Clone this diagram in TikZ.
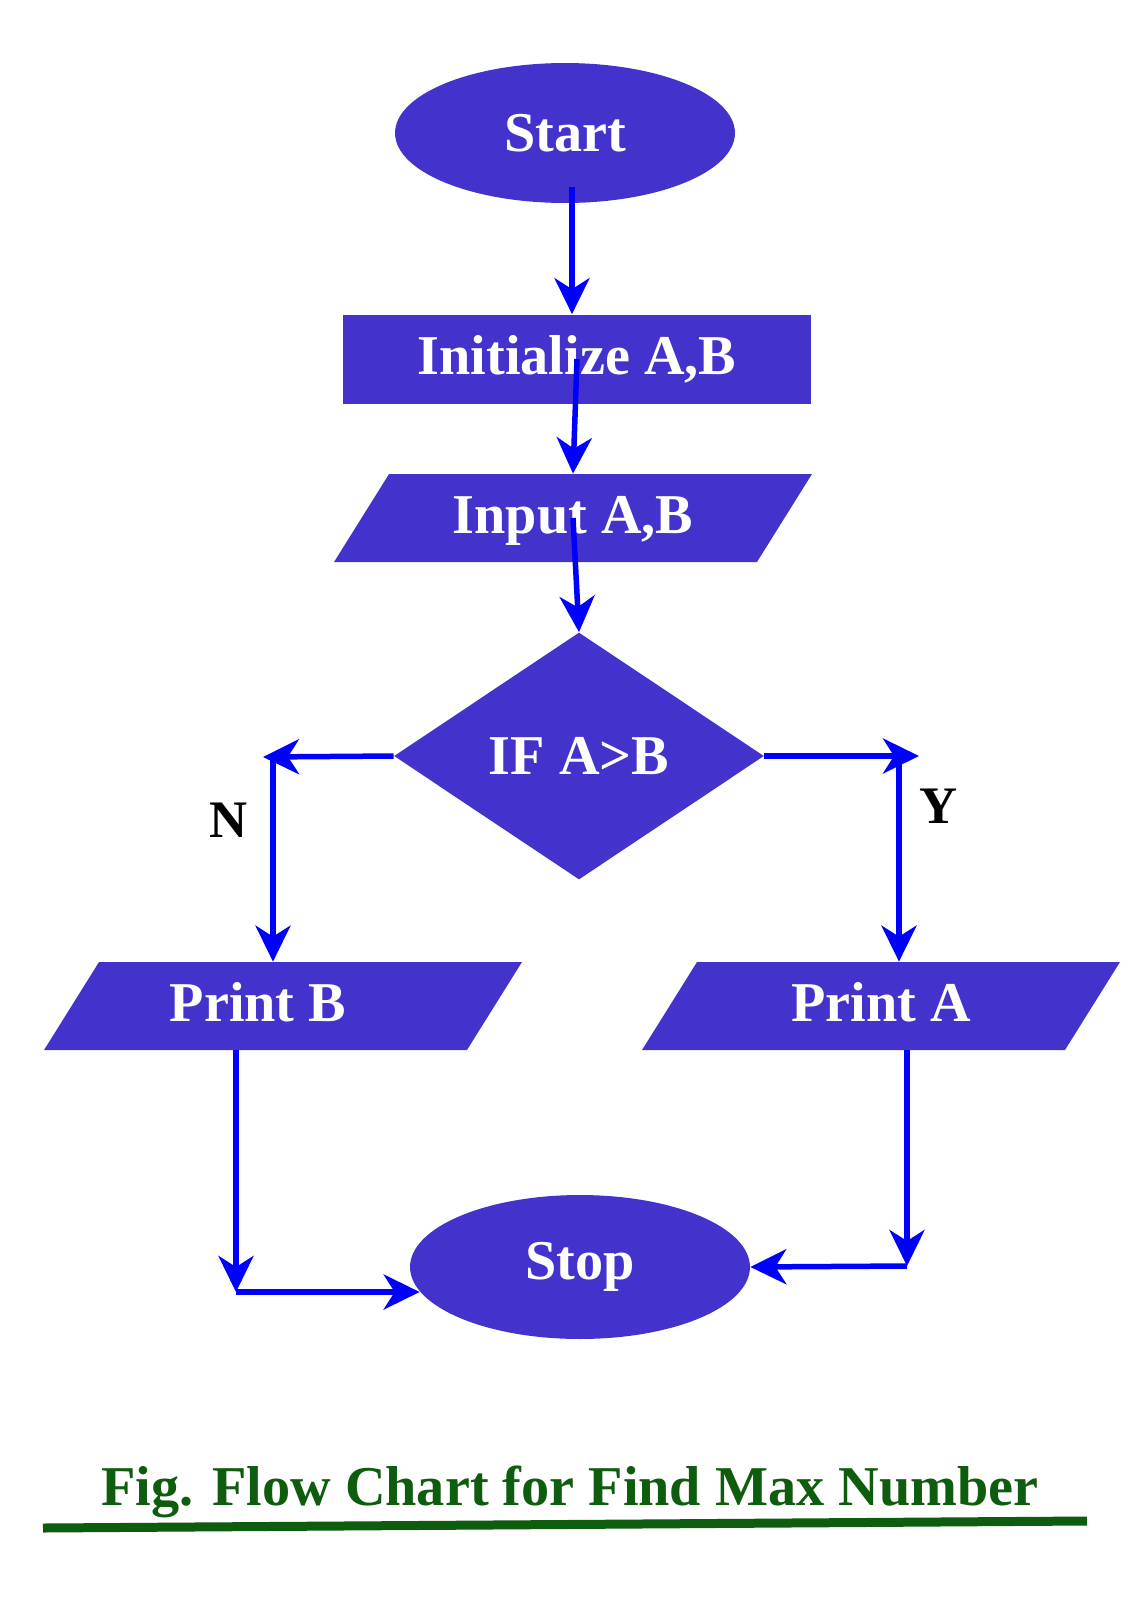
\documentclass[tikz,border=0pt]{standalone}
\usepackage{fontspec}
\setmainfont{Liberation Serif}
\usepackage{tikz}
\usetikzlibrary{shapes.geometric,arrows.meta}
\usepackage{xcolor}

\definecolor{flowfill}{RGB}{67,51,204}
\definecolor{flowline}{RGB}{0,0,255}
\definecolor{titlegreen}{RGB}{14,92,14}
\newcommand{\flowfont}{\bfseries\fontsize{32}{36}\selectfont}

\tikzset{
	terminal/.style={ellipse, fill=flowfill, text=white, inner sep=0pt, minimum width=6.8cm, minimum height=2.8cm, font=\flowfont},
	process/.style={rectangle, fill=flowfill, text=white, inner sep=0pt, minimum width=9.38cm, minimum height=1.78cm, font=\flowfont},
	inout/.style={trapezium, trapezium left angle=58, trapezium right angle=122, trapezium stretches body, fill=flowfill, text=white, inner xsep=0pt, inner ysep=0.38cm, text height=0.8cm, text depth=0.2cm, minimum width=9.56cm, font=\flowfont},
	decision/.style={diamond, fill=flowfill, text=white, inner sep=0pt, minimum width=7.4cm, minimum height=4.94cm, font=\flowfont},
	branch/.style={text=black, font=\bfseries\fontsize{30}{34}\selectfont},
	flow/.style={draw=flowline, line width=0.11cm, -{Stealth[length=0.72cm, width=0.7cm, inset=0.22cm]}},
}

\begin{document}
\begin{tikzpicture}[x=0.02cm, y=-0.02cm]
			\fill[white] (0,0) rectangle (1131,1600);
			\useasboundingbox (0,0) rectangle (1131,1600);

			\node[terminal] (start) at (565,133) {Start};
			\node[process] (init) at (577,359) {Initialize A,B};
			\node[inout] (input) at (573,518) {Input A,B};
			\node[decision] (dec) at (579,756) {IF A>B};
			\node[inout] (printb) at (283,1006) {\hspace*{-1.0cm}Print B};
			\node[inout] (printa) at (881,1006) {Print A};
			\node[terminal, minimum height=2.88cm] (stop) at (580,1267) {Stop};

			\node[branch] (nlabel) at (229,820) {N};
			\node[branch] (ylabel) at (939,806) {Y};

			\coordinate (startfoot) at (572,187);
			\coordinate (nend) at (263,757);
			\coordinate (ncorner) at (273,755);
			\coordinate (yend) at (919,756);
			\coordinate (ycorner) at (899,758);
			\coordinate (bcorner) at (236,1292);
			\coordinate (dcorner) at (907,1266);

			\draw[flow] (startfoot) -- (startfoot |- init.north);
			\draw[flow] (init.center) -- (input.north);
			\draw[flow] (input.center) -- (dec.north);
			\draw[flow] (dec.west) -- (nend);
			\draw[flow] (ncorner) -- (ncorner |- printb.north);
			\draw[flow] (dec.east) -- (yend);
			\draw[flow] (ycorner) -- (ycorner |- printa.north);
			\draw[flow] (bcorner |- printb.south) -- (bcorner);
			\draw[flow] (bcorner) -- ([xshift=0.2cm]bcorner -| stop.west);
			\draw[flow] (dcorner |- printa.south) -- (dcorner);
			\draw[flow] (dcorner) -- (stop.east);

			\node[text=titlegreen, font=\bfseries\fontsize{32}{36}\selectfont] (title) at (570,1492) {Fig. Flow Chart for Find Max Number};
			\draw[titlegreen, line width=0.18cm] (43,1528) -- (1087,1521);
		\end{tikzpicture}
\end{document}
